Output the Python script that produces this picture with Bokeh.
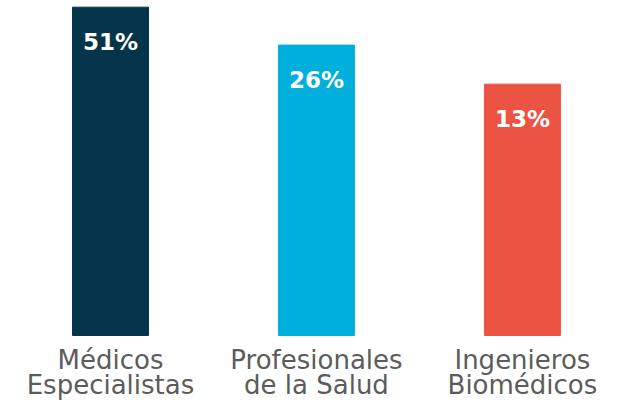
from bokeh.plotting import figure
from bokeh.models import Range1d, ColumnDataSource
from bokeh.embed import file_html
from bokeh.resources import INLINE
from bokeh.core.properties import value

categories = ["Médicos\nEspecialistas", "Profesionales\nde la Salud", "Ingenieros\nBiomédicos"]
values = [51, 26, 13]
labels = ["51%", "26%", "13%"]
colors = ["#04354B", "#00AFDB", "#EB5343"]

baseline_value = 0.15
xs = list(range(len(categories)))
line1 = [c.split("\n")[0] for c in categories]
line2 = [c.split("\n")[1] for c in categories]

src = ColumnDataSource(dict(x=xs, top=values, label=labels, color=colors,
                            bottom=[baseline_value] * len(values),
                            line1=line1, line2=line2))

p = figure(width=607, height=401, output_backend="svg", toolbar_location=None,
           y_axis_type="log", x_range=Range1d(-0.534, 2.413),
           y_range=Range1d(0.04647, 57.4),
           min_border_left=0, min_border_right=0, min_border_top=0, min_border_bottom=0)
p.outline_line_color = None
p.grid.visible = False
p.axis.visible = False
p.background_fill_color = "white"
p.border_fill_color = "white"

p.vbar(x="x", top="top", bottom="bottom", width=0.369, color="color", source=src)
p.text(x="x", y="top", text="label", source=src, text_align="center",
       text_baseline="alphabetic", y_offset=35, text_color="white",
       text_font=value("DejaVu Sans"), text_font_style="bold",
       text_font_size="23px")

for col, off in (("line1", 25), ("line2", 50)):
    p.text(x="x", y="bottom", text=col, source=src, text_align="center",
           text_baseline="alphabetic", y_offset=off, text_color="#5C5C5C",
           text_font=value("DejaVu Sans"), text_font_size="26px")

open("out.html", "w").write(file_html(p, INLINE))
